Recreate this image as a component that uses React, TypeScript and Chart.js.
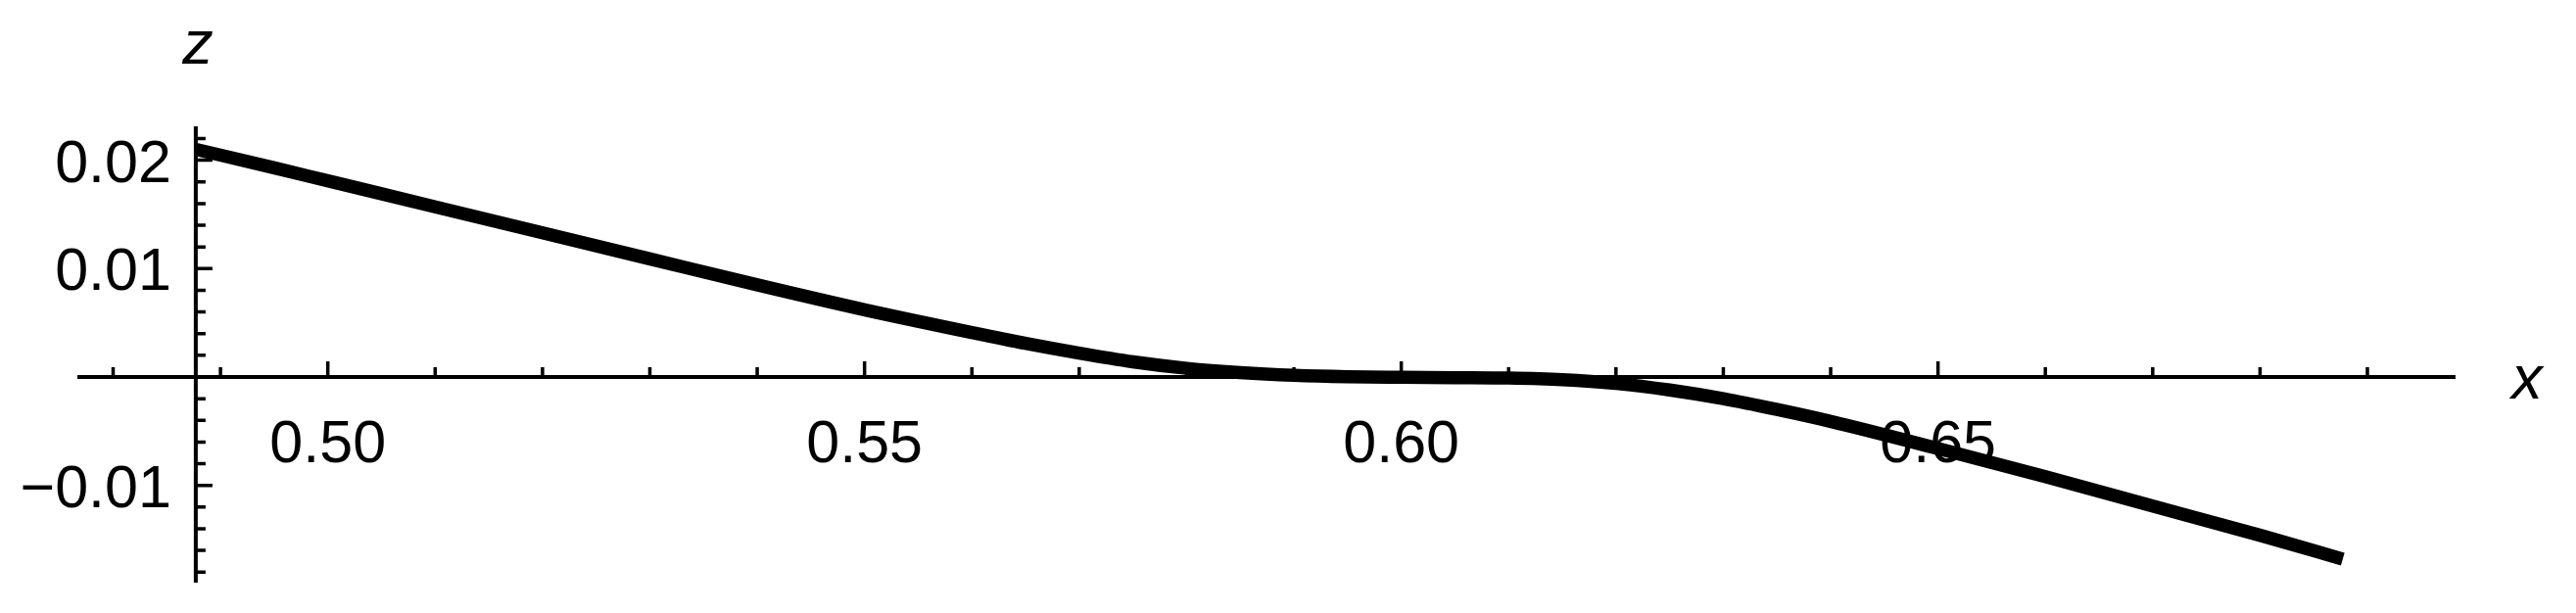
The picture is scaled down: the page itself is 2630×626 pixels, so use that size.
import React, { useEffect, useRef } from "react";
import { Chart, registerables } from "chart.js";

Chart.register(...registerables);

// ---- data ----
const xValues = [
  0.4877, 0.495, 0.5, 0.51, 0.52, 0.53, 0.54, 0.55, 0.56, 0.565, 0.57, 0.575,
  0.58, 0.585, 0.59, 0.595, 0.6, 0.605, 0.61, 0.615, 0.62, 0.625, 0.63, 0.635,
  0.64, 0.65, 0.66, 0.67, 0.68, 0.6877,
];
const zValues = [
  0.021, 0.0193, 0.0181, 0.0157, 0.0133, 0.0109, 0.0085, 0.0062, 0.0041,
  0.0031, 0.0022, 0.0014, 0.0008, 0.0004, 0.00015, 0.00002, -0.00003,
  -0.00006, -0.0001, -0.00025, -0.0006, -0.0012, -0.002, -0.003, -0.0041,
  -0.0066, -0.0092, -0.0119, -0.0146, -0.0168,
];

// ---- axes / ticks ----
const xRange = [0.47667, 0.69821];
const yRange = [-0.01897, 0.023125];
const axisOriginX = 0.4877;
const xMajorTicks = [0.5, 0.55, 0.6, 0.65];
const xTickLabels = ["0.50", "0.55", "0.60", "0.65"];
const xMinorTicks = [
  0.48, 0.49, 0.51, 0.52, 0.53, 0.54, 0.56, 0.57, 0.58, 0.59, 0.61, 0.62, 0.63,
  0.64, 0.66, 0.67, 0.68, 0.69,
];
const yMajorTicks = [-0.01, 0.01, 0.02];
const yTickLabels = ["\u22120.01", "0.01", "0.02"];
const yMinorTicks = [
  -0.018, -0.016, -0.014, -0.012, -0.008, -0.006, -0.004, -0.002, 0.002, 0.004,
  0.006, 0.008, 0.012, 0.014, 0.016, 0.018, 0.022,
];
const xAxisTitle = "x";
const yAxisTitle = "z";

const FONT = '"Liberation Sans", Arial, sans-serif';

const axesPlugin = {
  id: "mathematicaAxes",
  beforeDatasetsDraw(chart: any) {
    const ctx: CanvasRenderingContext2D = chart.ctx;
    const xs = chart.scales.x;
    const ys = chart.scales.y;
    const area = chart.chartArea;
    const x0 = xs.getPixelForValue(axisOriginX);
    const y0 = ys.getPixelForValue(0);
    ctx.save();
    ctx.strokeStyle = "#000";
    ctx.fillStyle = "#000";
    ctx.lineCap = "butt";

    // axis lines
    ctx.lineWidth = 4;
    ctx.beginPath();
    ctx.moveTo(area.left, y0);
    ctx.lineTo(area.right, y0);
    ctx.moveTo(x0, area.top);
    ctx.lineTo(x0, area.bottom);
    ctx.stroke();

    // ticks
    ctx.lineWidth = 3.5;
    ctx.beginPath();
    xMajorTicks.forEach((v) => {
      const p = xs.getPixelForValue(v);
      ctx.moveTo(p, y0);
      ctx.lineTo(p, y0 - 16);
    });
    xMinorTicks.forEach((v) => {
      const p = xs.getPixelForValue(v);
      ctx.moveTo(p, y0);
      ctx.lineTo(p, y0 - 10);
    });
    yMajorTicks.forEach((v) => {
      const p = ys.getPixelForValue(v);
      ctx.moveTo(x0, p);
      ctx.lineTo(x0 + 17, p);
    });
    yMinorTicks.forEach((v) => {
      const p = ys.getPixelForValue(v);
      ctx.moveTo(x0, p);
      ctx.lineTo(x0 + 10, p);
    });
    ctx.stroke();

    // tick labels
    ctx.font = `61px ${FONT}`;
    ctx.textBaseline = "alphabetic";
    ctx.textAlign = "center";
    xMajorTicks.forEach((v, i) => {
      const p = xs.getPixelForValue(v);
      ctx.fillText(xTickLabels[i], p, y0 + 87);
    });
    ctx.textAlign = "right";
    yMajorTicks.forEach((v, i) => {
      const p = ys.getPixelForValue(v);
      ctx.fillText(yTickLabels[i], x0 - 25, p + 22);
    });

    // axis titles
    ctx.font = `italic 63px ${FONT}`;
    ctx.textAlign = "center";
    ctx.fillText(xAxisTitle, area.right + 73, y0 + 22);
    ctx.fillText(yAxisTitle, x0 + 2, area.top - 64);
    ctx.restore();
  },
};

export default function App() {
  const canvasRef = useRef<HTMLCanvasElement | null>(null);

  useEffect(() => {
    document.body.style.margin = "0";
    const canvas = canvasRef.current;
    if (!canvas) return;
    const points = xValues.map((x, i) => ({ x, y: zValues[i] }));
    const chart = new Chart(canvas, {
      type: "line",
      data: {
        datasets: [
          {
            data: points,
            borderColor: "#000",
            backgroundColor: "#000",
            borderWidth: 13.5,
            pointRadius: 0,
            cubicInterpolationMode: "monotone",
            fill: false,
          },
        ],
      },
      options: {
        responsive: false,
        maintainAspectRatio: false,
        devicePixelRatio: 1,
        animation: false,
        events: [],
        layout: { padding: { left: 79, right: 123, top: 129, bottom: 31 } },
        plugins: {
          legend: { display: false },
          tooltip: { enabled: false },
          title: { display: false },
        },
        scales: {
          x: { type: "linear", min: xRange[0], max: xRange[1], display: false },
          y: { type: "linear", min: yRange[0], max: yRange[1], display: false },
        },
      },
      plugins: [axesPlugin],
    });
    return () => chart.destroy();
  }, []);

  return (
    <div style={{ position: "fixed", left: 0, top: 0, width: 2630, height: 626, background: "#fff" }}>
      <canvas ref={canvasRef} width={2630} height={626} style={{ width: 2630, height: 626 }} />
    </div>
  );
}
